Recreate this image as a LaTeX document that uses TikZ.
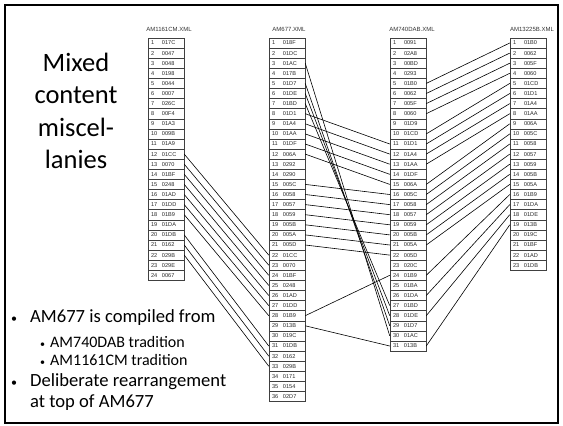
\documentclass[tikz,border=0pt]{standalone}
\usepackage{fontspec}
\setmainfont{Carlito}
\newfontfamily\tabfont{Liberation Sans}
\begin{document}
\begin{tikzpicture}[x=1pt,y=-1pt,
  cell/.style={draw=black!75, line width=0.5pt, rectangle, minimum width=36pt,
    minimum height=10.1pt, inner sep=0pt, text width=30pt, align=left,
    font=\tabfont\fontsize{5.6}{6}\selectfont, text=black!85},
  hdr/.style={font=\tabfont\fontsize{6}{7}\selectfont, inner sep=0pt, text=black!80},
  link/.style={draw=black, line width=0.6pt},
  bigtxt/.style={font=\fontsize{26.5}{32.5}\selectfont, align=center, inner sep=0pt},
  bul/.style={font=\fontsize{18.6}{21}\selectfont, anchor=west, inner sep=0pt},
  subbul/.style={font=\fontsize{16}{18}\selectfont, anchor=west, inner sep=0pt}
]
\useasboundingbox (0,0) rectangle (563,426);
\draw[line width=1.6pt] (5,5) rectangle (558,423);

% column A
\foreach \i/\c in {1/017C,2/0047,3/0048,4/0198,5/0044,6/0007,7/026C,8/00F4,9/01A3,10/009B,11/01A9,12/01CC,13/0070,14/01BF,15/0248,16/01AD,17/01DD,18/01B9,19/01DA,20/01DB,21/0162,22/029B,23/029E,24/0067}
  \node[cell] (A\i) at (166,{43+(\i-1)*10.1}) {\makebox[11pt][l]{\i}\c};
% column B
\foreach \i/\c in {1/018F,2/01DC,3/01AC,4/017B,5/01D7,6/01DE,7/01BD,8/01D1,9/01A4,10/01AA,11/01DF,12/006A,13/0292,14/0290,15/005C,16/0058,17/0057,18/0059,19/005B,20/005A,21/005D,22/01CC,23/0070,24/01BF,25/0248,26/01AD,27/01DD,28/01B9,29/013B,30/019C,31/01DB,32/0162,33/029B,34/0171,35/0154,36/02D7}
  \node[cell] (B\i) at (287,{43+(\i-1)*10.1}) {\makebox[11pt][l]{\i}\c};
% column C
\foreach \i/\c in {1/0091,2/02A8,3/00BD,4/0293,5/01B0,6/0062,7/005F,8/0060,9/01D9,10/01CD,11/01D1,12/01A4,13/01AA,14/01DF,15/006A,16/005C,17/0058,18/0057,19/0059,20/005B,21/005A,22/005D,23/020C,24/01B9,25/01BA,26/01DA,27/01BD,28/01DE,29/01D7,30/01AC,31/013B}
  \node[cell] (C\i) at (408,{43+(\i-1)*10.1}) {\makebox[11pt][l]{\i}\c};
% column D
\foreach \i/\c in {1/01B0,2/0062,3/005F,4/0060,5/01CD,6/01D1,7/01A4,8/01AA,9/006A,10/005C,11/0058,12/0057,13/0059,14/005B,15/005A,16/01B9,17/01DA,18/01DE,19/013B,20/019C,21/01BF,22/01AD,23/01DB}
  \node[cell] (D\i) at (528,{43+(\i-1)*10.1}) {\makebox[11pt][l]{\i}\c};

% headers
\node[hdr] (hA) at (169,29) {AM1161CM.XML};
\node[hdr] (hB) at (289,29) {AM677.XML};
\node[hdr] (hC) at (412,29) {AM740DAB.XML};
\node[hdr] (hD) at (532,29) {AM13225B.XML};

% links
\foreach \a/\b in {12/22,13/23,14/24,15/25,16/26,17/27,18/28,20/31,21/32,22/33}
  \draw[link] (A\a.east) -- (B\b.west);
\foreach \a/\b in {3/30,5/29,6/28,7/27,8/11,9/12,10/13,11/14,12/15,15/16,16/17,17/18,18/19,19/20,20/21,21/22,28/24,29/31}
  \draw[link] (B\a.east) -- (C\b.west);
\foreach \a/\b in {5/1,6/2,7/3,8/4,10/5,11/6,12/7,13/8,15/9,16/10,17/11,18/12,19/13,20/14,21/15,24/16,26/17,28/18,31/19}
  \draw[link] (C\a.east) -- (D\b.west);

% texts
\node[bigtxt] (title) at (76,111) {Mixed\\content\\miscel-\\lanies};
\node[bul] (t1) at (11,318) {\makebox[19pt][l]{\fontsize{12}{12}\selectfont•}AM677 is compiled from};
\node[subbul] (t2) at (40,342) {\makebox[10pt][l]{\fontsize{10}{10}\selectfont•}AM740DAB tradition};
\node[subbul] (t3) at (40,360) {\makebox[10pt][l]{\fontsize{10}{10}\selectfont•}AM1161CM tradition};
\node[bul] (t4) at (11,382) {\makebox[19pt][l]{\fontsize{12}{12}\selectfont•}Deliberate rearrangement};
\node[bul] (t5) at (30,403) {at top of AM677};
\end{tikzpicture}
\end{document}
